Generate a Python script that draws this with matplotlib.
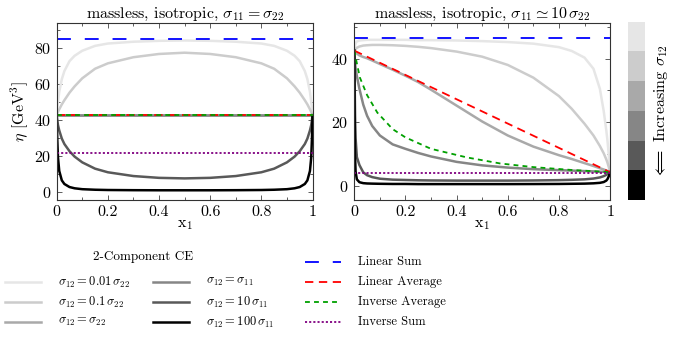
import numpy as np
import matplotlib
matplotlib.use("Agg")
import matplotlib.pyplot as plt
from matplotlib.lines import Line2D
from matplotlib.colors import ListedColormap, BoundaryNorm
from matplotlib.colorbar import ColorbarBase
from matplotlib.ticker import MultipleLocator

plt.rcParams['font.family'] = 'serif'
plt.rcParams['font.serif'] = ['cmr10']
plt.rcParams['mathtext.fontset'] = 'cm'
plt.rcParams['axes.formatter.use_mathtext'] = True
plt.rcParams['lines.scale_dashes'] = False

# gray levels, increasing sigma_12 -> darker
grays = ['#e6e6e6', '#cccccc', '#a9a9a9', '#868686', '#595959', '#000000']
labels = [r'$\sigma_{12} = 0.01\,\sigma_{22}$', r'$\sigma_{12} = 0.1\,\sigma_{22}$',
          r'$\sigma_{12} = \sigma_{22}$', r'$\sigma_{12} = \sigma_{11}$',
          r'$\sigma_{12} = 10\,\sigma_{11}$', r'$\sigma_{12} = 100\,\sigma_{11}$']

# ---- left panel: sigma_11 = sigma_22 ----
xL = [0, 0.002, 0.005, 0.01, 0.02, 0.03, 0.05, 0.07, 0.1, 0.15, 0.2, 0.3, 0.4, 0.5,
      0.6, 0.7, 0.8, 0.85, 0.9, 0.93, 0.95, 0.97, 0.98, 0.99, 0.995, 0.998, 1]
L_001 = [42.5, 46, 50, 55.5, 62.5, 67, 72.5, 75.5, 78.3, 81, 82.3, 83.3, 83.8, 84.0,
         83.8, 83.3, 82.3, 81, 78.3, 75.5, 72.5, 67, 62.5, 55.5, 50, 46, 42.5]
L_01 = [42.5, 43.3, 44.3, 45.8, 48.5, 50.8, 55, 58.5, 63, 68.3, 71.3, 74.7, 76.5, 77.2,
        76.5, 74.7, 71.3, 68.3, 63, 58.5, 55, 50.8, 48.5, 45.8, 44.3, 43.3, 42.5]
L_10 = [42.5, 40, 37, 34, 29.5, 26.5, 22.5, 19.5, 16.3, 12.8, 10.8, 8.7, 7.7, 7.4,
        7.7, 8.7, 10.8, 12.8, 16.3, 19.5, 22.5, 26.5, 29.5, 34, 37, 40, 42.5]
L_100 = [42.5, 30, 19, 11.5, 6.3, 4.3, 2.6, 1.9, 1.4, 1.1, 0.95, 0.85, 0.8, 0.8,
         0.8, 0.85, 0.95, 1.1, 1.4, 1.9, 2.6, 4.3, 6.3, 11.5, 19, 30, 42.5]
xL_flat = [0, 1]
L_flat = [42.5, 42.5]
left_curves = [(xL, L_001), (xL, L_01), (xL_flat, L_flat), (xL_flat, L_flat),
               (xL, L_10), (xL, L_100)]

L_lin_sum = 85.0
L_lin_avg = 42.5
L_inv_avg = 42.5
L_inv_sum = 21.25

# ---- right panel: sigma_11 ~ 10 sigma_22 ----
xR = [0, 0.001, 0.003, 0.005, 0.01, 0.02, 0.035, 0.05, 0.07, 0.1, 0.15, 0.2, 0.25, 0.3,
      0.4, 0.5, 0.6, 0.7, 0.8, 0.85, 0.9, 0.935, 0.96, 0.975, 0.985, 0.99, 0.995, 1]
R_001 = [42.5, 43.2, 44.2, 44.8, 45.4, 45.7, 45.8, 45.9, 45.9, 45.9, 45.9, 45.9, 45.8, 45.8,
         45.7, 45.5, 45.2, 44.7, 43.6, 42.4, 40.3, 36.8, 30.5, 23.5, 17.5, 14, 9.5, 4.25]
R_01 = [42.5, 42.6, 42.8, 43, 43.4, 43.8, 44.1, 44.2, 44.3, 44.3, 44.2, 44.0, 43.7, 43.3,
        42.2, 40.6, 38, 34, 28.2, 24.2, 19.5, 15.8, 12.5, 10.2, 8.3, 7.2, 5.8, 4.25]
R_1 = [42.5, 42.4, 42.2, 42, 41.6, 41.0, 40.5, 40.1, 39.4, 38.3, 36.5, 34.6, 32.6, 30.2,
       25.2, 20.2, 15.8, 12.3, 9.6, 8.4, 7.1, 6.2, 5.5, 5.1, 4.8, 4.6, 4.4, 4.25]
R_s11 = [42.5, 41, 38.5, 37, 34.5, 30.5, 25.5, 22, 18.8, 15.8, 13, 11.6, 10.3, 9.2,
         7.5, 6.4, 5.7, 5.2, 4.9, 4.75, 4.6, 4.5, 4.4, 4.35, 4.3, 4.3, 4.28, 4.25]
R_10 = [42.5, 35, 22, 15, 9, 6.5, 4.2, 3.3, 2.7, 2.2, 1.9, 1.8, 1.7, 1.65,
        1.6, 1.6, 1.6, 1.65, 1.75, 1.85, 2.0, 2.25, 2.6, 3.0, 3.4, 3.7, 4.0, 4.25]
R_100 = [42.5, 25, 9, 4.5, 2.0, 1.1, 0.8, 0.7, 0.65, 0.6, 0.55, 0.55, 0.5, 0.5,
         0.5, 0.5, 0.5, 0.52, 0.55, 0.6, 0.65, 0.75, 0.9, 1.15, 1.6, 2.1, 3.0, 4.25]
right_curves = [(xR, R_001), (xR, R_01), (xR, R_1), (xR, R_s11), (xR, R_10), (xR, R_100)]

R_lin_sum = 46.5
x_lin_avg = [0, 1]
R_lin_avg = [42.5, 4.25]
x_inv_avg = [0, 0.01, 0.022, 0.05, 0.09, 0.15, 0.2, 0.3, 0.44, 0.57, 0.7, 0.85, 1]
R_inv_avg = [42.5, 38.5, 34.0, 28.5, 23.0, 17.8, 15.2, 11.6, 8.9, 7.0, 5.85, 4.95, 4.25]
R_inv_sum = 3.9

# reference line styles
ref_styles = {
    'Linear Sum': dict(color='#0000ff', lw=1.3, dashes=(10, 10)),
    'Linear Average': dict(color='#ff0000', lw=1.3, dashes=(6, 4)),
    'Inverse Average': dict(color='#00a000', lw=1.3, dashes=(3.5, 3)),
    'Inverse Sum': dict(color='#800080', lw=1.3, dashes=(1.5, 1.5)),
}

W, H = 674, 343
FS = 11.5
fig = plt.figure(figsize=(W / 100, H / 100), dpi=100)
axL = fig.add_axes([56.7 / W, 1 - 200 / H, 255.8 / W, 177 / H])
axR = fig.add_axes([354.3 / W, 1 - 200 / H, 255.8 / W, 177 / H])

for (x, y), c in zip(left_curves, grays):
    axL.plot(x, y, color=c, lw=1.8)
axL.axhline(L_lin_sum, **ref_styles['Linear Sum'])
axL.axhline(L_lin_avg, **ref_styles['Linear Average'])
axL.axhline(L_inv_avg, **ref_styles['Inverse Average'])
axL.axhline(L_inv_sum, **ref_styles['Inverse Sum'])

for (x, y), c in zip(right_curves, grays):
    axR.plot(x, y, color=c, lw=1.8)
axR.axhline(R_lin_sum, **ref_styles['Linear Sum'])
axR.plot(x_lin_avg, R_lin_avg, **ref_styles['Linear Average'])
axR.plot(x_inv_avg, R_inv_avg, **ref_styles['Inverse Average'])
axR.axhline(R_inv_sum, **ref_styles['Inverse Sum'])

axL.set_ylim(-4.6, 93.7)
axR.set_ylim(-4.5, 51.2)
for ax in (axL, axR):
    ax.set_xlim(0, 1)
    ax.xaxis.set_major_locator(MultipleLocator(0.2))
    ax.xaxis.set_minor_locator(MultipleLocator(0.1))
    ax.yaxis.set_major_locator(MultipleLocator(20))
    ax.yaxis.set_minor_locator(MultipleLocator(10))
    ax.xaxis.set_major_formatter(plt.FuncFormatter(lambda v, p: '%g' % round(v, 2)))
    ax.tick_params(which='both', direction='in', top=True, right=True,
                   labelsize=FS, pad=4, width=0.6, color='#444444')
    ax.tick_params(which='major', length=3.5)
    ax.tick_params(which='minor', length=2)
    for s in ax.spines.values():
        s.set_linewidth(0.8)
        s.set_color('#333333')
    ax.set_xlabel(r'$\mathrm{x}_1$', fontsize=FS, labelpad=-1)

axL.set_ylabel(r'$\eta$ [GeV$^3$]', fontsize=FS, labelpad=2)
axL.set_title(r'massless, isotropic, $\sigma_{11} = \sigma_{22}$', fontsize=FS, pad=2)
axR.set_title(r'massless, isotropic, $\sigma_{11} \simeq 10\,\sigma_{22}$', fontsize=FS, pad=2)

# colorbar of sigma_12 levels
cax = fig.add_axes([627.7 / W, 1 - 200 / H, 17.3 / W, 178.3 / H])
cmap = ListedColormap(grays[::-1])
cb = ColorbarBase(cax, cmap=cmap, norm=BoundaryNorm(np.arange(7), 6), orientation='vertical')
cb.set_ticks([])
cax.minorticks_off()
cax.tick_params(which='both', length=0)
cb.outline.set_visible(False)
fig.text(661 / W, 1 - 111 / H, r'$\Longleftarrow$ Increasing $\sigma_{12}$', rotation=90,
         ha='center', va='center', fontsize=FS)

# legend drawn by hand to match the layout
def legend_entry(x, y, text, **style):
    fig.add_artist(Line2D([x / W, (x + 36) / W], [1 - y / H, 1 - y / H],
                          transform=fig.transFigure, **style))
    fig.text((x + 53) / W, 1 - y / H, text, ha='left', va='center', fontsize=9)

fig.text(143 / W, 1 - 257 / H, '2-Component CE', ha='center', va='center', fontsize=9.5)
rows = [282, 302, 322]
for i, (lab, c) in enumerate(zip(labels, grays)):
    col_x = 5 if i < 3 else 153
    legend_entry(col_x, rows[i % 3], lab, color=c, lw=1.8)
for y, name in zip([262, 282, 302, 322], ref_styles):
    legend_entry(305, y, name, **ref_styles[name])

fig.savefig('out.png', dpi=100)
